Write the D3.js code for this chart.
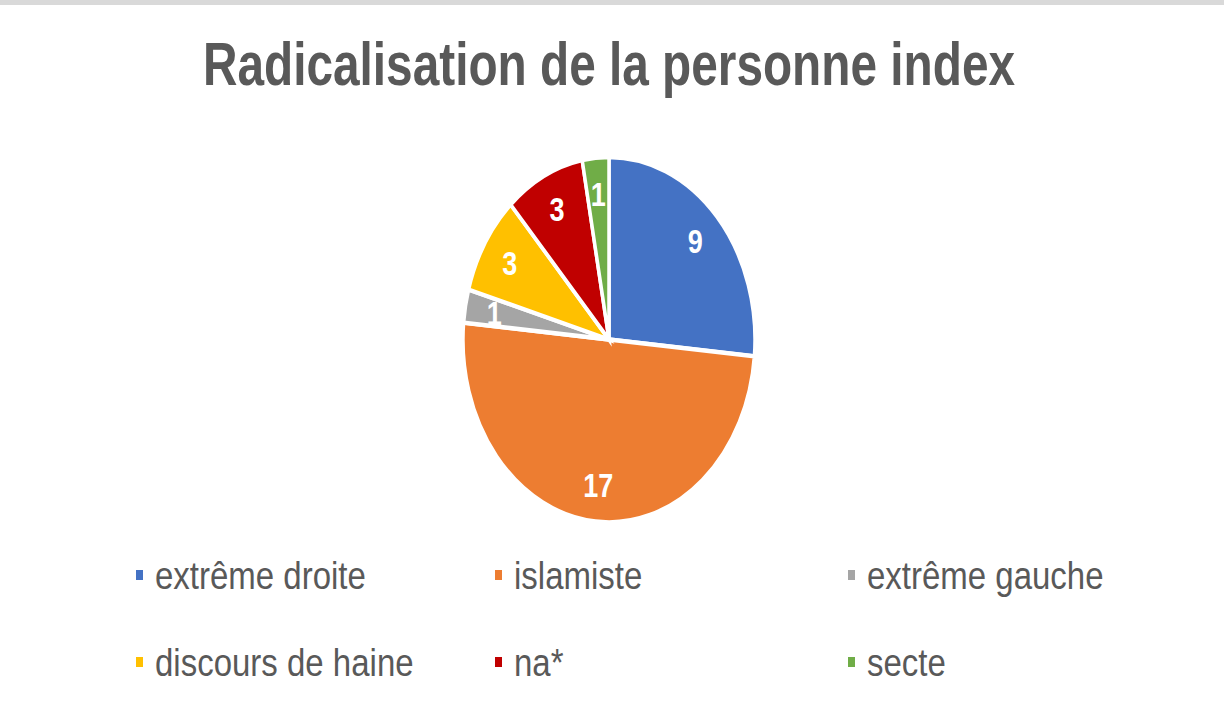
<!DOCTYPE html>
<html><head><meta charset="utf-8">
<script src="https://cdn.jsdelivr.net/npm/d3@7"></script>
<style>body{margin:0;background:#fff}</style>
</head><body>
<svg id="c" width="1224" height="714"></svg>
<script>
const categories = ["extrême droite","islamiste","extrême gauche","discours de haine","na*","secte"];
const values = [9,17,1,3,3,1];
const colors = ["#4472C4","#ED7D31","#A5A5A5","#FFC000","#C00000","#70AD47"];
const title = "Radicalisation de la personne index";

const svg = d3.select("#c");
svg.append("rect").attr("x",0).attr("y",0).attr("width",1224).attr("height",5).attr("fill","#d9d9d9");

svg.append("text").attr("transform","translate(609,85) scale(1,1.12)").attr("text-anchor","middle")
  .attr("font-family","Liberation Sans Narrow, Liberation Sans, sans-serif").attr("font-weight","bold")
  .attr("font-size",54).attr("fill","#595959")
  .attr("textLength",812).attr("lengthAdjust","spacingAndGlyphs").text(title);

const cx=609, cy=339.5, r=146, sy=1.25;
const g = svg.append("g").attr("transform",`translate(${cx},${cy}) scale(1,${sy})`);
const pie = d3.pie().sort(null).value(d=>d)(values);
const arc = d3.arc().innerRadius(0).outerRadius(r);
const lab = d3.arc().innerRadius(r*0.8).outerRadius(r*0.8);
const color = d3.scaleOrdinal().domain(categories).range(colors);

g.selectAll("path").data(pie).join("path")
  .attr("d",arc).attr("fill",(d,i)=>color(categories[i]))
  .attr("stroke","#fff").attr("stroke-width",3.5).attr("stroke-linejoin","miter");

g.selectAll("text.v").data(pie).join("text").attr("class","v")
  .attr("transform",d=>`translate(${lab.centroid(d)})`)
  .attr("text-anchor","middle").attr("dy","0.36em")
  .attr("font-family","Liberation Sans, Arial, sans-serif").attr("font-weight","bold")
  .attr("font-size",27).attr("fill","#fff").text(d=>d.data);

const legX=[136,495,848], legY=[575,662];
const leg = svg.selectAll("g.l").data(categories).join("g").attr("class","l")
  .attr("transform",(d,i)=>`translate(${legX[i%3]},${legY[Math.floor(i/3)]})`);
leg.append("rect").attr("x",0).attr("y",-5).attr("width",7).attr("height",10).attr("fill",d=>color(d));
leg.append("text").attr("transform","translate(19,0) scale(1,1.2)").attr("dy","0.35em")
  .attr("font-family","Liberation Sans Narrow, Liberation Sans, sans-serif")
  .attr("font-size",33).attr("fill","#595959").text(d=>d);
</script>
</body></html>
